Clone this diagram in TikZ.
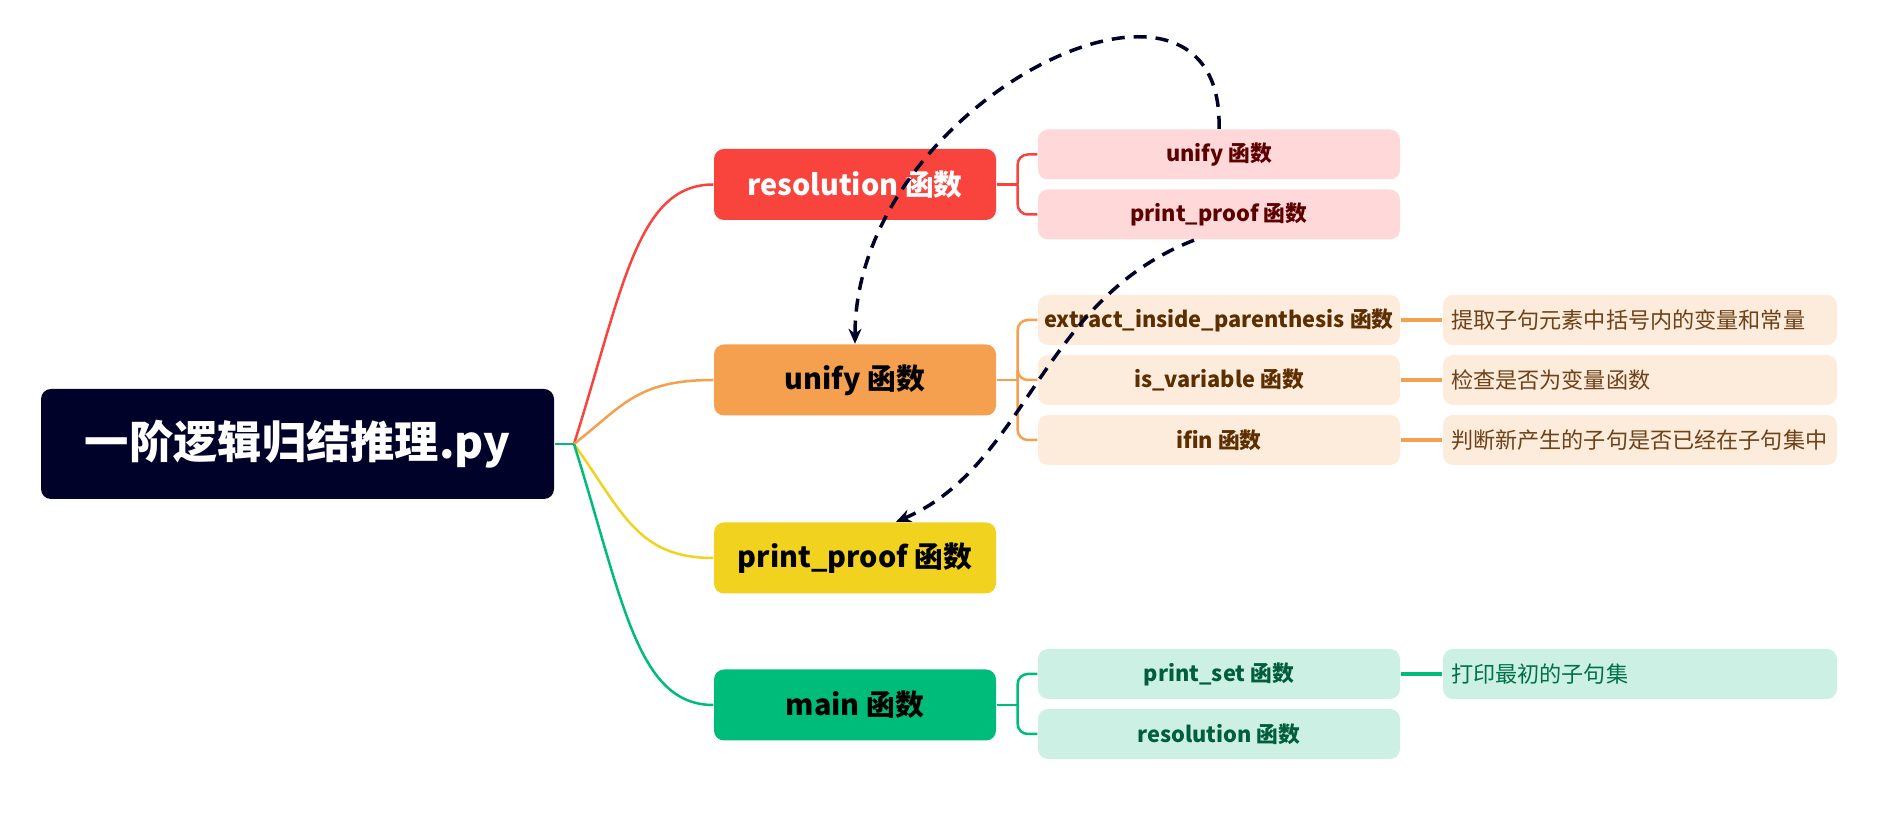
\documentclass[tikz,border=0pt]{standalone}
\usepackage{fontspec}
\setmainfont{Noto Sans CJK SC}
\usetikzlibrary{arrows.meta}
\definecolor{rootnavy}{RGB}{0,2,42}
\definecolor{fnred}{RGB}{249,68,62}
\definecolor{fnorange}{RGB}{245,160,78}
\definecolor{fnyellow}{RGB}{241,211,31}
\definecolor{fngreen}{RGB}{0,188,123}
\definecolor{pinkfill}{RGB}{255,217,217}
\definecolor{peachfill}{RGB}{253,235,220}
\definecolor{mintfill}{RGB}{204,241,228}
\definecolor{redtext}{RGB}{92,0,0}
\definecolor{browntext}{RGB}{92,46,0}
\definecolor{greentext}{RGB}{0,94,60}
\definecolor{notebrown}{RGB}{110,66,24}
\definecolor{notegreen}{RGB}{0,112,72}
\tikzset{
  rootbox/.style={fill=rootnavy, rounded corners=1mm, minimum width=5.13cm, minimum height=1.10cm,
    inner sep=0pt, text=white, font=\fontsize{12.6}{15}\selectfont\bfseries},
  funcbox/.style={rounded corners=1mm, minimum width=2.82cm, minimum height=0.71cm,
    inner sep=0pt, font=\fontsize{8.2}{10}\selectfont\bfseries},
  subbox/.style={rounded corners=1mm, minimum width=3.62cm, minimum height=0.50cm,
    inner sep=0pt, font=\fontsize{6.2}{8}\selectfont\bfseries},
  notebox/.style={rounded corners=1mm, text width=3.78cm, minimum height=0.50cm, inner xsep=0.08cm,
    inner ysep=0pt, align=left, font=\fontsize{6.3}{8}\selectfont},
  branch/.style={line width=0.25mm},
  bracket/.style={line width=0.25mm, rounded corners=1mm},
  notelink/.style={line width=0.4mm},
  callarrow/.style={draw=rootnavy, line width=0.35mm, dash pattern=on 1.3mm off 0.9mm,
    -{Stealth[length=1.5mm, width=1.3mm]}}
}
\begin{document}
\begin{tikzpicture}
  \useasboundingbox (0,0) rectangle (18.81,8.14);
  \node[rootbox] (root) at (2.975,3.70) {一阶逻辑归结推理.py};
  \coordinate (hub) at (5.74,3.70);
  \node[funcbox, fill=fnred, text=white] (fRes) at (8.55,6.295) {resolution 函数};
  \node[funcbox, fill=fnorange] (fUnify) at (8.55,4.34) {unify 函数};
  \node[funcbox, fill=fnyellow] (fPrint) at (8.55,2.56) {print\_proof 函数};
  \node[funcbox, fill=fngreen] (fMain) at (8.55,1.09) {main 函数};
  \node[subbox, fill=pinkfill, text=redtext] (sUnify) at (12.19,6.595) {unify 函数};
  \node[subbox, fill=pinkfill, text=redtext] (sPrint) at (12.19,5.995) {print\_proof 函数};
  \node[subbox, fill=peachfill, text=browntext] (sExtract) at (12.19,4.94) {extract\_inside\_parenthesis 函数};
  \node[subbox, fill=peachfill, text=browntext] (sIsVar) at (12.19,4.34) {is\_variable 函数};
  \node[subbox, fill=peachfill, text=browntext] (sIfin) at (12.19,3.74) {ifin 函数};
  \node[subbox, fill=mintfill, text=greentext] (sPrintSet) at (12.19,1.40) {print\_set 函数};
  \node[subbox, fill=mintfill, text=greentext] (sRes) at (12.19,0.80) {resolution 函数};
  \node[notebox, fill=peachfill, text=notebrown] (nExtract) at (16.40,4.94) {提取子句元素中括号内的变量和常量};
  \node[notebox, fill=peachfill, text=notebrown] (nIsVar) at (16.40,4.34) {检查是否为变量函数};
  \node[notebox, fill=peachfill, text=notebrown] (nIfin) at (16.40,3.74) {判断新产生的子句是否已经在子句集中};
  \node[notebox, fill=mintfill, text=notegreen] (nPrintSet) at (16.40,1.40) {打印最初的子句集};
  \draw[branch, fngreen] (root) -- (hub);
  \draw[branch, fnred] (hub) .. controls (6.23,5.257) and (6.37,6.295) .. (fRes.west);
  \draw[branch, fnorange] (hub) .. controls (6.23,4.084) and (6.37,4.34) .. (fUnify.west);
  \draw[branch, fnyellow] (hub) .. controls (6.23,3.016) and (6.37,2.56) .. (fPrint.west);
  \draw[branch, fngreen] (hub) .. controls (6.23,2.134) and (6.37,1.09) .. (fMain.west);
  \coordinate (bRes) at ([xshift=0.21cm]fRes.east);
  \coordinate (bUnify) at ([xshift=0.21cm]fUnify.east);
  \coordinate (bMain) at ([xshift=0.21cm]fMain.east);
  \draw[bracket, fnred] (fRes.east) -- (bRes);
  \draw[bracket, fnred] (bRes) |- (sUnify.west);
  \draw[bracket, fnred] (bRes) |- (sPrint.west);
  \draw[bracket, fnorange] (fUnify.east) -- (bUnify);
  \draw[bracket, fnorange] (bUnify) |- (sExtract.west);
  \draw[bracket, fnorange] (bUnify) |- (sIsVar.west);
  \draw[bracket, fnorange] (bUnify) |- (sIfin.west);
  \draw[bracket, fngreen] (fMain.east) -- (bMain);
  \draw[bracket, fngreen] (bMain) |- (sPrintSet.west);
  \draw[bracket, fngreen] (bMain) |- (sRes.west);
  \draw[notelink, fnorange] (sExtract) -- (nExtract);
  \draw[notelink, fnorange] (sIsVar) -- (nIsVar);
  \draw[notelink, fnorange] (sIfin) -- (nIfin);
  \draw[notelink, fngreen] (sPrintSet) -- (nPrintSet);
  \draw[callarrow] (sUnify.north) .. controls (12.25,8.94) and (8.55,7.14) .. (fUnify.north);
  \draw[callarrow] ([xshift=-0.25cm]sPrint.south) .. controls (10.40,5.14) and (10.27,3.48) .. ([xshift=0.41cm]fPrint.north);
\end{tikzpicture}
\end{document}
